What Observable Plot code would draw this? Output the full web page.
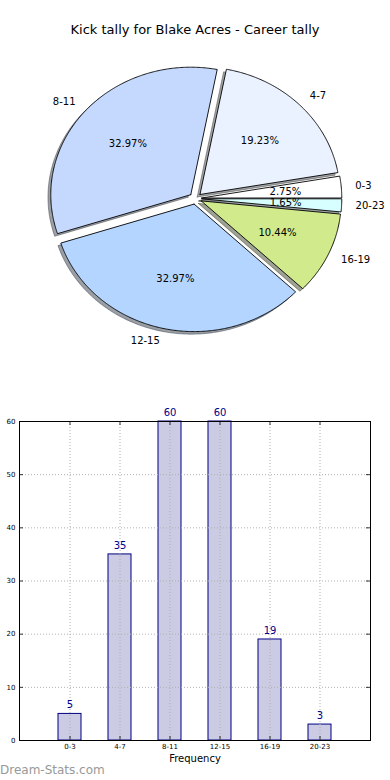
<!DOCTYPE html>
<html><head><meta charset="utf-8">
<script src="https://cdn.jsdelivr.net/npm/d3@7"></script>
<script src="https://cdn.jsdelivr.net/npm/@observablehq/plot@0.6"></script>
<style>
body{margin:0;background:#fff;}
#wrap{position:relative;width:390px;height:780px;overflow:hidden;font-family:"DejaVu Sans",sans-serif;background:#fff;}
#pie{position:absolute;left:0;top:0;}
#title{position:absolute;left:0;top:22px;width:390px;text-align:center;font-size:13px;line-height:16px;color:#000;}
#bars{position:absolute;left:0;top:390px;}
#mark{position:absolute;left:0;top:763px;font-size:12px;line-height:14px;color:#999;}
</style></head><body>
<div id="wrap"><div id="pie"></div><div id="title"></div><div id="bars"></div><div id="mark"></div></div>
<script>
// ---- data ----
const titleText = "Kick tally for Blake Acres - Career tally";
const categories = ["0-3", "4-7", "8-11", "12-15", "16-19", "20-23"];
const counts = [5, 35, 60, 60, 19, 3];
const sliceColors = ["#ffffff", "#ebf2ff", "#c5d9fe", "#b3d5ff", "#d0ea8c", "#d8ffff"];
const yTickValues = [0, 10, 20, 30, 40, 50, 60];
const xLabelText = "Frequency";
const watermarkText = "Dream-Stats.com";

document.getElementById("title").textContent = titleText;
document.getElementById("mark").textContent = watermarkText;

// ---- pie geometry (unit circle in data space) ----
const explode = 0.045, labelDist = 1.1, pctDist = 0.6, shadowOff = -0.02;
const total = d3.sum(counts);
let cum = 0;
const slices = categories.map((cat, i) => {
  const a1 = cum / total * 2 * Math.PI;
  cum += counts[i];
  const a2 = cum / total * 2 * Math.PI;
  const mid = (a1 + a2) / 2;
  const ox = explode * Math.cos(mid), oy = explode * Math.sin(mid);
  const n = Math.max(2, Math.ceil((a2 - a1) / (Math.PI / 360)));
  const pts = [{x: ox, y: oy}];
  for (let k = 0; k <= n; k++) {
    const a = a1 + (a2 - a1) * k / n;
    pts.push({x: ox + Math.cos(a), y: oy + Math.sin(a)});
  }
  pts.push({x: ox, y: oy});
  const lx = ox + labelDist * Math.cos(mid);
  return {cat, i, mid, ox, oy, pts, color: sliceColors[i],
    lx, ly: oy + labelDist * Math.sin(mid),
    px: ox + pctDist * Math.cos(mid), py: oy + pctDist * Math.sin(mid),
    pct: (100 * counts[i] / total).toFixed(2) + "%"};
});
function shade(c) { const r = d3.rgb(c); return d3.rgb(r.r * 0.3, r.g * 0.3, r.b * 0.3).formatHex(); }

const cx = 195, cy = 198, rx = 140, ry = 127.5, W = 390, H = 390;
const pieMarks = [];
slices.forEach(s => pieMarks.push(Plot.line(s.pts, {
  x: d => d.x + shadowOff, y: d => d.y + shadowOff,
  fill: shade(s.color), fillOpacity: 0.5, stroke: shade(s.color), strokeOpacity: 0.5, strokeWidth: 1, curve: "linear"
})));
slices.forEach(s => pieMarks.push(Plot.line(s.pts, {
  x: "x", y: "y", fill: s.color, stroke: "black", strokeWidth: 0.9, curve: "linear", strokeLinejoin: "miter"
})));
pieMarks.push(Plot.text(slices, {x: "px", y: "py", text: "pct", fontSize: 10, fill: "black"}));
pieMarks.push(Plot.text(slices.filter(s => s.lx > 0), {x: "lx", y: "ly", text: "cat", textAnchor: "start", fontSize: 10, fill: "black"}));
pieMarks.push(Plot.text(slices.filter(s => s.lx <= 0), {x: "lx", y: "ly", text: "cat", textAnchor: "end", fontSize: 10, fill: "black"}));

const pie = Plot.plot({
  width: W, height: H, margin: 0,
  style: {fontFamily: "DejaVu Sans", fontSize: "10px", background: "transparent", overflow: "visible"},
  x: {domain: [-cx / rx, (W - cx) / rx], axis: null},
  y: {domain: [(cy - H) / ry, cy / ry], axis: null},
  marks: pieMarks
});
document.getElementById("pie").appendChild(pie);

// ---- bar chart ----
const barData = categories.map((cat, i) => ({cat, count: counts[i]}));
const mT = 31, mB = 40, mL = 19, mR = 20, BH = 390;
const frameW = W - mL - mR, frameH = BH - mT - mB;
const gridStyle = {stroke: "#b0b0b0", strokeWidth: 1, strokeDasharray: "1,2", strokeOpacity: 1};
const bars = Plot.plot({
  width: W, height: BH, marginTop: mT, marginBottom: mB, marginLeft: mL, marginRight: mR,
  style: {fontFamily: "DejaVu Sans", fontSize: "10px", background: "transparent", overflow: "visible"},
  x: {type: "band", domain: categories, paddingInner: 0.542, paddingOuter: 0.767, label: null},
  y: {domain: [0, 60], label: null},
  marks: [
    Plot.barY(barData, {x: "cat", y: "count", fill: "#cbcbe3", stroke: "#000080", strokeWidth: 1}),
    Plot.ruleY(yTickValues.filter(v => v > 0 && v < 60), {y: d => d, ...gridStyle}),
    Plot.ruleX(categories, {x: d => d, ...gridStyle}),
    Plot.ruleX(categories, {x: d => d, insetTop: frameH - 4, stroke: "black", strokeWidth: 0.8}),
    Plot.ruleX(categories, {x: d => d, insetBottom: frameH - 4, stroke: "black", strokeWidth: 0.8}),
    Plot.ruleY(yTickValues, {y: d => d, insetRight: frameW - 4, stroke: "black", strokeWidth: 0.8}),
    Plot.ruleY(yTickValues, {y: d => d, insetLeft: frameW - 4, stroke: "black", strokeWidth: 0.8}),
    Plot.frame({stroke: "black", strokeWidth: 1}),
    Plot.axisX({tickSize: 0, tickPadding: 4, fontSize: 7, label: null}),
    Plot.axisY({ticks: yTickValues, tickSize: 0, tickPadding: 4, fontSize: 7, label: null}),
    Plot.text(barData, {x: "cat", y: "count", text: d => String(d.count), dy: -9, fill: "#00008b", fontSize: 10}),
    Plot.text([xLabelText], {text: d => d, frameAnchor: "bottom", dy: 21, fontSize: 10, fill: "black"})
  ]
});
document.getElementById("bars").appendChild(bars);
</script>
</body></html>
